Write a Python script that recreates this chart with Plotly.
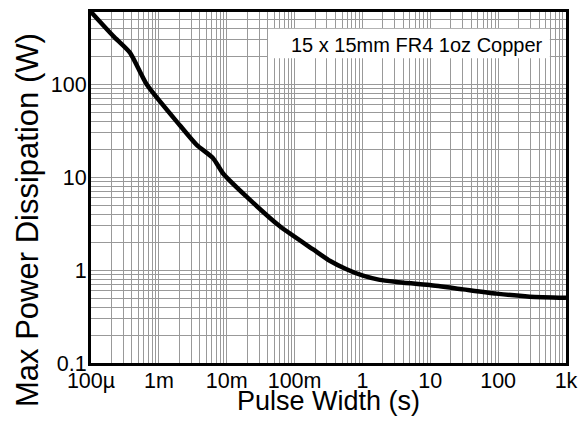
import plotly.graph_objects as go

pulse_width_s = [1e-4, 2.13e-4, 3.75e-4, 6.6e-4, 2.05e-3, 3.6e-3, 6.3e-3, 8.9e-3,
                 0.0196, 0.0607, 0.188, 0.33, 0.583, 1.02, 1.8, 3.18, 9.8, 30.4,
                 94, 292, 1000]
max_power_w = [600, 330, 219, 100, 36, 22.3, 16.0, 10.9,
               6.17, 2.96, 1.67, 1.26, 1.02, 0.87, 0.785, 0.746, 0.69, 0.62,
               0.558, 0.518, 0.505]

x_tickvals = [1e-4, 1e-3, 1e-2, 1e-1, 1, 10, 100, 1000]
x_ticktext = ["100µ", "1m", "10m", "100m", "1", "10", "100", "1k"]
y_tickvals = [0.1, 1, 10, 100]
y_ticktext = ["0.1", "1", "10", "100"]

font_family = "Liberation Sans, Arial, sans-serif"

fig = go.Figure()
fig.add_trace(go.Scatter(x=pulse_width_s, y=max_power_w, mode="lines",
                         line=dict(color="black", width=4.5, shape="spline", smoothing=0.6),
                         showlegend=False, hoverinfo="skip"))

grid_color = "#999999"
fig.update_xaxes(type="log", range=[-4, 3], tickvals=x_tickvals, ticktext=x_ticktext,
                 showgrid=True, gridcolor=grid_color, gridwidth=1,
                 minor=dict(showgrid=True, gridcolor=grid_color, gridwidth=1, dtick="D1"),
                 showline=True, linecolor="black", linewidth=3, mirror=True,
                 ticks="", ticklen=0, ticklabelstandoff=-4,
                 tickfont=dict(size=21.5, color="black", family=font_family),
                 zeroline=False)
fig.update_yaxes(type="log", range=[-1, 2.778], tickvals=y_tickvals, ticktext=y_ticktext,
                 showgrid=True, gridcolor=grid_color, gridwidth=1,
                 minor=dict(showgrid=True, gridcolor=grid_color, gridwidth=1, dtick="D1"),
                 showline=True, linecolor="black", linewidth=3, mirror=True,
                 ticks="", ticklen=0, ticklabelstandoff=-3,
                 tickfont=dict(size=21.5, color="black", family=font_family),
                 zeroline=False)

fig.update_layout(
    width=579, height=415,
    margin=dict(l=83, r=21, t=1, b=60),
    paper_bgcolor="white", plot_bgcolor="white",
    font=dict(family=font_family, color="black"),
    shapes=[
        dict(type="rect", xref="paper", yref="paper", x0=0.3726, x1=0.966,
             y0=0.868, y1=0.952, fillcolor="white", line=dict(width=0), layer="above"),
    ],
    annotations=[
        dict(text="15 x 15mm FR4 1oz Copper", xref="paper", yref="paper",
             x=0.956, y=0.905, xanchor="right", yanchor="middle", showarrow=False,
             font=dict(size=20, color="black", family=font_family)),
        dict(text="Pulse Width (s)", xref="paper", yref="paper",
             x=0.5, y=-0.107, xanchor="center", yanchor="middle", showarrow=False,
             font=dict(size=27, color="black", family=font_family)),
        dict(text="Max Power Dissipation (W)", xref="paper", yref="paper",
             x=-0.135, y=0.407, xanchor="center", yanchor="middle", textangle=-90,
             showarrow=False,
             font=dict(size=31, color="black", family=font_family)),
    ],
)

fig.write_html("out.html")
